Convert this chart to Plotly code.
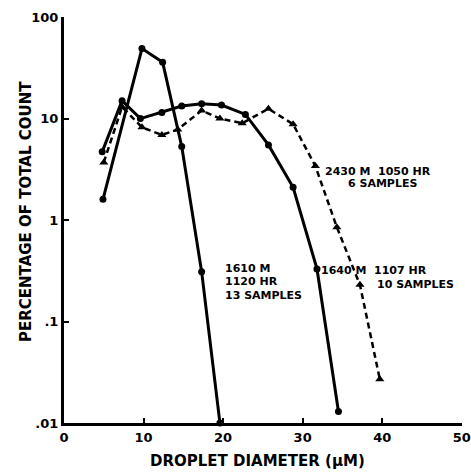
import plotly.graph_objects as go

# Series: 1610 M, 1120 HR, 13 samples (solid, sharp peak)
a_x = [4.9, 9.8, 12.4, 14.8, 17.3, 19.6]
a_y = [1.6, 49, 36, 5.3, 0.31, 0.01]

# Series: 1640 M, 1107 HR, 10 samples (solid, broad)
b_x = [4.8, 7.3, 9.6, 12.3, 14.8, 17.3, 19.8, 22.8, 25.7, 28.8, 31.8, 34.5]
b_y = [4.7, 15, 10, 11.5, 13.3, 14, 13.6, 11, 5.5, 2.1, 0.33, 0.013]

# Series: 2430 M, 1050 HR, 6 samples (dashed)
c_x = [5.0, 7.3, 9.8, 12.3, 14.3, 17.3, 19.6, 22.4, 25.7, 28.8, 31.6, 34.3, 37.2, 39.7]
c_y = [3.7, 13, 8.2, 6.9, 7.8, 12, 10, 9.0, 12.5, 8.8, 3.4, 0.85, 0.23, 0.027]

x_ticks = [0, 10, 20, 30, 40, 50]
y_ticks = [0.01, 0.1, 1, 10, 100]
y_ticklabels = [".01", ".1", "1", "10", "100"]

W, H = 471, 475
L, R, T, B = 64, 9, 17, 52
PW, PH = W - L - R, H - T - B

fig = go.Figure()
fig.add_trace(go.Scatter(x=a_x, y=a_y, mode="lines+markers",
                         line=dict(color="black", width=3),
                         marker=dict(symbol="circle", size=7, color="black"),
                         cliponaxis=False))
fig.add_trace(go.Scatter(x=b_x, y=b_y, mode="lines+markers",
                         line=dict(color="black", width=3),
                         marker=dict(symbol="circle", size=7, color="black"),
                         cliponaxis=False))
fig.add_trace(go.Scatter(x=c_x, y=c_y, mode="lines+markers",
                         line=dict(color="black", width=2.5, dash="6px,4px"),
                         marker=dict(symbol="triangle-up", size=8, color="black"),
                         cliponaxis=False))

tf = dict(family="DejaVu Sans", size=13, color="black", weight="bold")
fig.update_layout(
    width=W, height=H,
    margin=dict(l=L, r=R, t=T, b=B, autoexpand=False),
    paper_bgcolor="white", plot_bgcolor="white",
    showlegend=False,
    xaxis=dict(range=[0, 50.03], tickvals=x_ticks, ticks="inside", ticklen=5,
               tickwidth=2, tickcolor="black", showgrid=False, zeroline=False,
               showline=True, linecolor="black", linewidth=3, tickfont=tf,
               automargin=False),
    yaxis=dict(type="log", range=[-2, 2.001], tickvals=y_ticks, ticktext=y_ticklabels,
               ticks="inside", ticklen=5, tickwidth=2, tickcolor="black",
               showgrid=False, zeroline=False, showline=True, linecolor="black",
               linewidth=3, tickfont=tf, automargin=False),
)

af = dict(family="DejaVu Sans", size=11, color="black", weight="bold")
anns = [
    dict(x=323, y=171, text="2430 M  1050 HR"),
    dict(x=346, y=183, text="6 SAMPLES"),
    dict(x=223, y=268, text="1610 M"),
    dict(x=223, y=281, text="1120 HR"),
    dict(x=223, y=295, text="13 SAMPLES"),
    dict(x=319, y=270, text="1640 M  1107 HR"),
    dict(x=375, y=284, text="10 SAMPLES"),
]
for a in anns:
    fig.add_annotation(xref="paper", yref="paper",
                       x=(a["x"] - L) / PW, y=1 - (a["y"] - T) / PH,
                       text=a["text"], xanchor="left", yanchor="middle",
                       showarrow=False, font=af)

fig.add_annotation(xref="paper", yref="paper",
                   x=(257 - L) / PW, y=1 - (461 - T) / PH,
                   text="DROPLET DIAMETER (μM)", showarrow=False,
                   xanchor="center", yanchor="middle",
                   font=dict(family="DejaVu Sans", size=15, color="black", weight="bold"))
fig.add_annotation(xref="paper", yref="paper",
                   x=(26 - L) / PW, y=1 - (212 - T) / PH,
                   text="PERCENTAGE OF TOTAL COUNT", showarrow=False, textangle=-90,
                   xanchor="center", yanchor="middle",
                   font=dict(family="DejaVu Sans", size=15, color="black", weight="bold"))

fig.write_html("out.html", config={"displayModeBar": False},
               post_script="document.body.style.margin='0px';")
